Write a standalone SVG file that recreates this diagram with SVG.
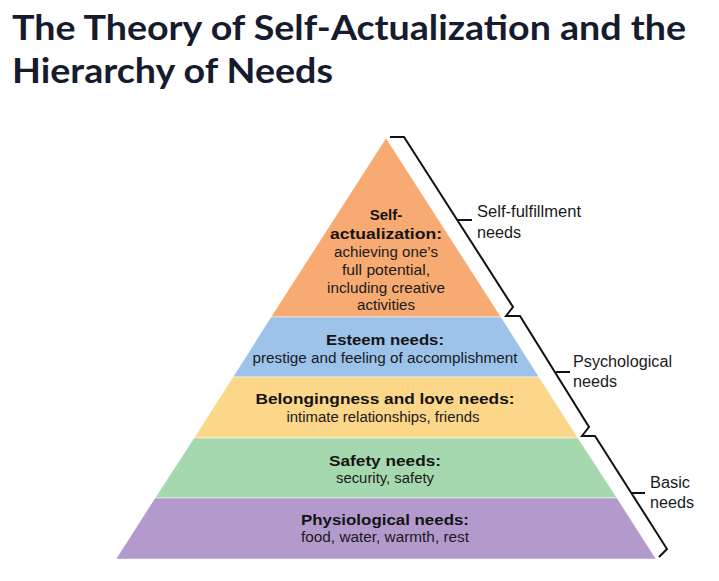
<svg xmlns="http://www.w3.org/2000/svg" width="719" height="581" viewBox="0 0 719 581">
<style>
.title{font-family:Lato,"Liberation Sans",sans-serif;font-weight:700;font-size:35px;fill:#161b2d}
.b{font-family:"Liberation Sans",Arial,sans-serif;font-weight:700;font-size:15px;fill:#141414;text-anchor:middle}
.r{font-family:"Liberation Sans",Arial,sans-serif;font-weight:400;font-size:14px;fill:#1a1a1a;text-anchor:middle}
.lbl{font-family:"Liberation Sans",Arial,sans-serif;font-weight:400;font-size:16px;fill:#1a1a1a}
.band{stroke:#ffffff;stroke-opacity:0.5;stroke-width:1}
.br{fill:none;stroke:#111;stroke-width:2;stroke-linejoin:miter}
</style>
<rect width="719" height="581" fill="#ffffff"/>
<g id="title">
<text class="title" x="12" y="40" textLength="674" lengthAdjust="spacingAndGlyphs">The Theory of Self-Actualization and the</text>
<text class="title" x="12" y="83" textLength="321" lengthAdjust="spacingAndGlyphs">Hierarchy of Needs</text>
</g>
<g id="self-actualization">
<polygon class="band" points="386,138 501,317 271,317" fill="#F7AA72"/>
<text class="b" x="386" y="220">Self-</text>
<text class="b" x="386" y="239" textLength="112" lengthAdjust="spacingAndGlyphs">actualization:</text>
<text class="r" x="386" y="257" textLength="104" lengthAdjust="spacingAndGlyphs">achieving one’s</text>
<text class="r" x="386" y="275" textLength="88" lengthAdjust="spacingAndGlyphs">full potential,</text>
<text class="r" x="386" y="293" textLength="118" lengthAdjust="spacingAndGlyphs">including creative</text>
<text class="r" x="386" y="310" textLength="58" lengthAdjust="spacingAndGlyphs">activities</text>
</g>
<g id="esteem">
<polygon class="band" points="271,317 501,317 539,377 233,377" fill="#9DC3EB"/>
<text class="b" x="385" y="345" textLength="118" lengthAdjust="spacingAndGlyphs">Esteem needs:</text>
<text class="r" x="385" y="363" textLength="265" lengthAdjust="spacingAndGlyphs">prestige and feeling of accomplishment</text>
</g>
<g id="belongingness">
<polygon class="band" points="233,377 539,377 578,438 194,438" fill="#FCD689"/>
<text class="b" x="385" y="404" textLength="259" lengthAdjust="spacingAndGlyphs">Belongingness and love needs:</text>
<text class="r" x="383" y="422" textLength="193" lengthAdjust="spacingAndGlyphs">intimate relationships, friends</text>
</g>
<g id="safety">
<polygon class="band" points="194,438 578,438 617,498 155,498" fill="#A6D8AF"/>
<text class="b" x="385" y="466" textLength="112" lengthAdjust="spacingAndGlyphs">Safety needs:</text>
<text class="r" x="385" y="483" textLength="98" lengthAdjust="spacingAndGlyphs">security, safety</text>
</g>
<g id="physiological">
<polygon class="band" points="155,498 617,498 656,559 116,559" fill="#B29BCC"/>
<text class="b" x="385" y="525" textLength="168" lengthAdjust="spacingAndGlyphs">Physiological needs:</text>
<text class="r" x="385" y="542" textLength="168" lengthAdjust="spacingAndGlyphs">food, water, warmth, rest</text>
</g>
<g id="connectors">
<path class="br" d="M390,137 L404,137 L513,307 L506,316 L520,316 L589,427 L582,436 L595,436 L667,549 L659,557"/>
<path class="br" d="M457,220 H472 M556,372 H570 M632,493 H645"/>
</g>
<g id="label-self-fulfillment">
<text class="lbl" x="477" y="217" textLength="104" lengthAdjust="spacingAndGlyphs">Self-fulfillment</text>
<text class="lbl" x="477" y="238" textLength="44" lengthAdjust="spacingAndGlyphs">needs</text>
</g>
<g id="label-psychological">
<text class="lbl" x="573" y="367" textLength="99" lengthAdjust="spacingAndGlyphs">Psychological</text>
<text class="lbl" x="573" y="387" textLength="44" lengthAdjust="spacingAndGlyphs">needs</text>
</g>
<g id="label-basic">
<text class="lbl" x="650" y="488" textLength="40" lengthAdjust="spacingAndGlyphs">Basic</text>
<text class="lbl" x="650" y="508" textLength="44" lengthAdjust="spacingAndGlyphs">needs</text>
</g>
</svg>
